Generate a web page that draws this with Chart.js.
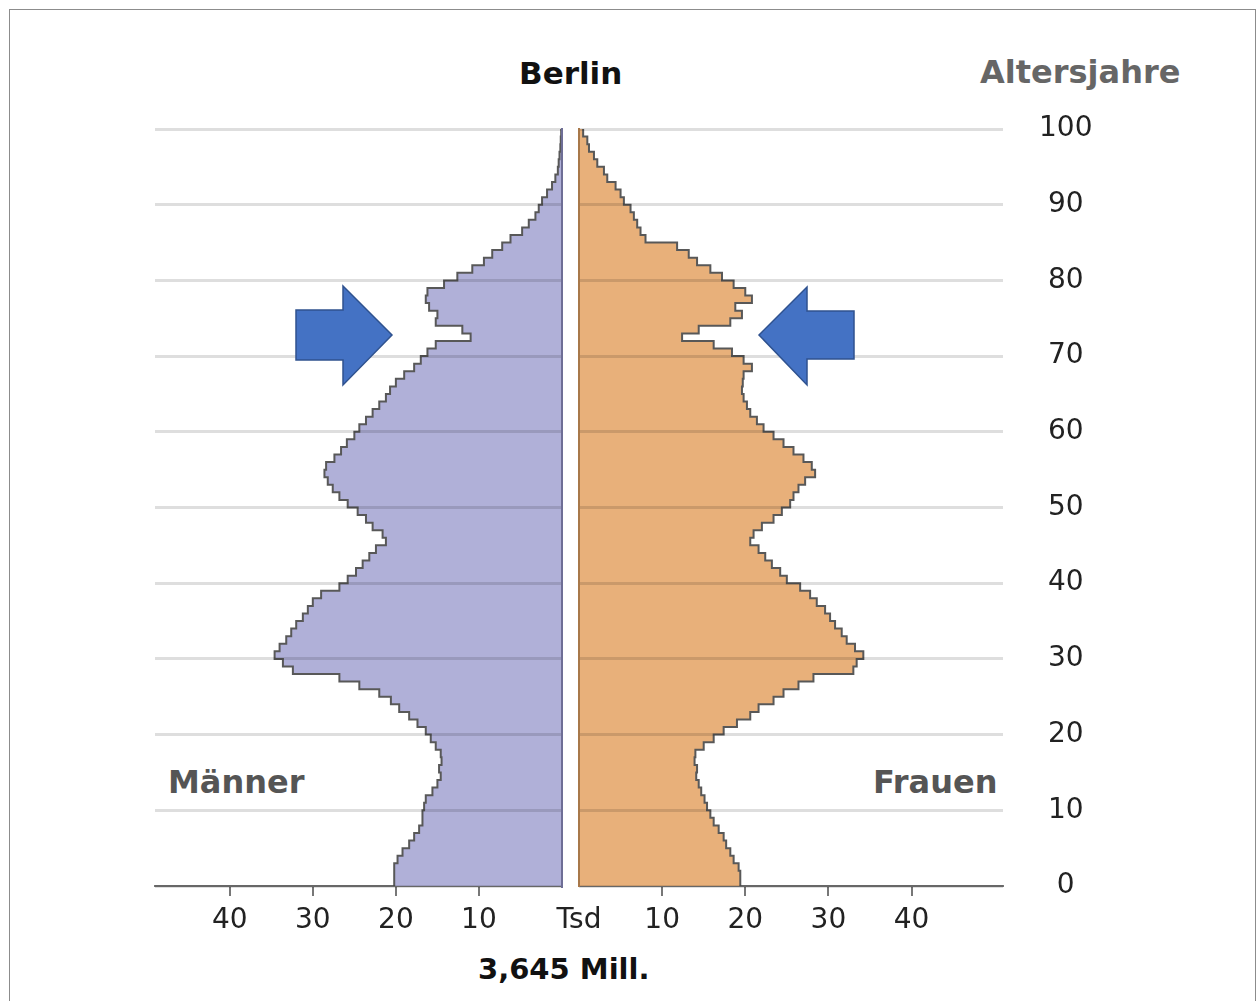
<!DOCTYPE html>
<html>
<head>
<meta charset="utf-8">
<script src="https://cdn.jsdelivr.net/npm/chart.js@4.4.1/dist/chart.umd.min.js"></script>
<style>
  html, body { margin: 0; padding: 0; background: #fff; }
  body { width: 1258px; height: 1001px; position: relative; overflow: hidden; font-family: 'DejaVu Sans', sans-serif; }
  .frame { position: absolute; left: 9px; top: 9px; width: 1245px; height: 1000px; border: 1.5px solid #8c8c8c; }
  canvas { position: absolute; }
  #male { left: 140px; top: 100px; }
  #female { left: 539px; top: 100px; }
  .lbl { position: absolute; line-height: 1; white-space: nowrap; font-weight: bold; }
  svg { position: absolute; left: 0; top: 0; }
</style>
</head>
<body>
<div class="frame"></div>
<div class="lbl" style="left:519px; top:58px; font-size:31px; color:#111;">Berlin</div>
<div class="lbl" style="left:980px; top:56px; font-size:32px; color:#666;">Altersjahre</div>
<div class="lbl" style="left:168px; top:766px; font-size:32px; color:#555;">Männer</div>
<div class="lbl" style="left:873px; top:766px; font-size:32px; color:#555;">Frauen</div>
<div class="lbl" style="left:478px; top:955px; font-size:29px; color:#111;">3,645 Mill.</div>

<canvas id="male" width="430" height="860"></canvas>
<canvas id="female" width="560" height="860"></canvas>

<svg width="1258" height="1001">
  <polygon points="296,310 343,310 343,286 392,335 343,385 343,360 296,360" fill="#4472c4" stroke="#2f528f" stroke-width="1.5"/>
  <polygon points="854,311 807,311 807,287 759,335 807,385 807,359 854,359" fill="#4472c4" stroke="#2f528f" stroke-width="1.5"/>
</svg>

<script>
// Einwohner je Altersjahr in Tausend (Alter 0 bis 99)
const ages = Array.from({length: 100}, (_, i) => i);

const maennerTsd = [
  20.2, 20.2, 20.2, 19.8, 19.2, 18.4, 17.8, 17.2, 16.8, 16.8,
  16.6, 16.4, 15.6, 15.0, 14.6, 14.8, 14.5, 14.6, 15.2, 15.8,
  16.4, 17.4, 18.4, 19.6, 20.6, 22.0, 24.4, 26.8, 32.4, 33.6,
  34.6, 34.0, 33.2, 32.6, 32.0, 31.2, 30.6, 30.0, 29.0, 26.8,
  25.8, 24.8, 24.0, 23.2, 22.4, 21.2, 21.6, 22.8, 23.6, 24.6,
  25.8, 26.8, 27.6, 28.2, 28.6, 28.4, 27.4, 26.6, 25.9, 25.0,
  24.4, 23.6, 22.8, 22.0, 21.2, 20.7, 20.0, 19.0, 17.8, 17.0,
  16.2, 15.2, 11.0, 12.0, 15.2, 15.0, 16.0, 16.4, 16.2, 14.2,
  12.6, 10.8, 9.4, 8.4, 7.2, 6.2, 4.8, 4.0, 3.2, 2.8,
  2.4, 1.8, 1.2, 0.8, 0.5, 0.4, 0.3, 0.2, 0.15, 0.1
];

const frauenTsd = [
  19.4, 19.4, 19.2, 18.6, 18.2, 17.7, 17.4, 16.8, 16.2, 15.8,
  15.4, 15.1, 14.7, 14.4, 14.1, 14.2, 13.9, 14.0, 15.0, 16.2,
  17.4, 19.0, 20.6, 21.6, 23.4, 24.6, 26.4, 28.2, 33.0, 33.4,
  34.2, 33.2, 32.2, 31.6, 30.8, 30.2, 29.6, 28.6, 27.8, 26.6,
  25.0, 24.2, 23.2, 22.4, 21.6, 20.6, 21.0, 22.0, 23.4, 24.4,
  25.4, 25.8, 26.4, 27.2, 28.4, 28.0, 27.0, 25.8, 24.6, 23.4,
  22.2, 21.4, 20.6, 20.2, 19.8, 19.6, 19.7, 19.8, 20.8, 19.8,
  18.4, 16.2, 12.4, 14.4, 18.2, 19.6, 18.8, 20.8, 20.0, 18.6,
  17.2, 15.8, 14.2, 13.2, 11.8, 8.0, 7.4, 7.0, 6.6, 6.2,
  5.4, 5.0, 4.4, 3.4, 3.0, 2.2, 1.8, 1.2, 1.0, 0.5
];

const ageMax = 100;
const xTicksShown = [0, 10, 20, 30, 40];

const tickFont = {family: 'DejaVu Sans', size: 28};
const gridColor = 'rgba(0,0,0,0.13)';

// each age holds its value up to the next age, closed at ageMax
function stepPoints(values) {
  const pts = values.map((v, i) => ({x: v, y: ages[i]}));
  pts.push({x: values[values.length - 1], y: ageMax});
  return pts;
}

function keepTens(scale) {
  scale.ticks = scale.ticks.filter(t => xTicksShown.includes(t.value));
}

function hideZeroTick(ctx) {
  return ctx.tick && ctx.tick.value === 0 ? 'rgba(0,0,0,0)' : '#777';
}

new Chart(document.getElementById('male'), {
  type: 'line',
  data: {
    datasets: [{
      data: stepPoints(maennerTsd),
      stepped: 'after',
      fill: 'origin',
      backgroundColor: '#b0b0d8',
      borderColor: '#585858',
      borderWidth: 2,
      pointRadius: 0
    }]
  },
  options: {
    indexAxis: 'y',
    responsive: false,
    animation: false,
    layout: {padding: {left: 15, right: 7, top: 29, bottom: 14}},
    plugins: {legend: {display: false}, tooltip: {enabled: false}},
    scales: {
      x: {
        type: 'linear', reverse: true, min: 0, max: 49, position: 'bottom',
        afterBuildTicks: keepTens,
        afterFit: s => { s.height = 60; },
        ticks: {stepSize: 10, padding: 8, font: tickFont, color: '#222', maxRotation: 0,
                callback: v => v === 0 ? '' : v},
        grid: {drawOnChartArea: false, drawTicks: true, tickLength: 10, tickColor: hideZeroTick, lineWidth: 2},
        border: {display: true, color: '#777', width: 2}
      },
      y: {
        type: 'linear', min: 0, max: ageMax, position: 'right',
        afterFit: s => { s.width = 0; },
        ticks: {display: false, stepSize: 10},
        grid: {color: gridColor, lineWidth: 3, drawTicks: false, z: 1},
        border: {display: true, color: '#6e6e96', width: 2, z: 1}
      }
    }
  }
});

new Chart(document.getElementById('female'), {
  type: 'line',
  data: {
    datasets: [{
      data: stepPoints(frauenTsd),
      stepped: 'after',
      fill: 'origin',
      backgroundColor: '#e8b07a',
      borderColor: '#585858',
      borderWidth: 2,
      pointRadius: 0
    }]
  },
  options: {
    indexAxis: 'y',
    responsive: false,
    animation: false,
    layout: {padding: {left: 40, right: 0, top: 29, bottom: 14}},
    plugins: {legend: {display: false}, tooltip: {enabled: false}},
    scales: {
      x: {
        type: 'linear', min: 0, max: 51, position: 'bottom',
        afterBuildTicks: keepTens,
        afterFit: s => { s.height = 60; },
        ticks: {stepSize: 10, padding: 8, font: tickFont, color: '#222', maxRotation: 0,
                callback: v => v === 0 ? 'Tsd' : v},
        grid: {drawOnChartArea: false, drawTicks: true, tickLength: 10, tickColor: hideZeroTick, lineWidth: 2},
        border: {display: true, color: '#777', width: 2}
      },
      y: {
        type: 'linear', min: 0, max: ageMax, position: 'right',
        afterFit: s => { s.width = 96; },
        ticks: {stepSize: 10, padding: 0, crossAlign: 'center', font: tickFont, color: '#222'},
        grid: {color: gridColor, lineWidth: 3, drawTicks: true, tickLength: 36,
               tickColor: 'rgba(0,0,0,0)', z: 1},
        border: {display: false}
      },
      yl: {
        type: 'linear', min: 0, max: ageMax, position: 'left',
        afterFit: s => { s.width = 0; },
        ticks: {display: false},
        grid: {display: false, drawTicks: false},
        border: {display: true, color: '#a8784a', width: 2, z: 1}
      }
    }
  }
});
</script>
</body>
</html>
